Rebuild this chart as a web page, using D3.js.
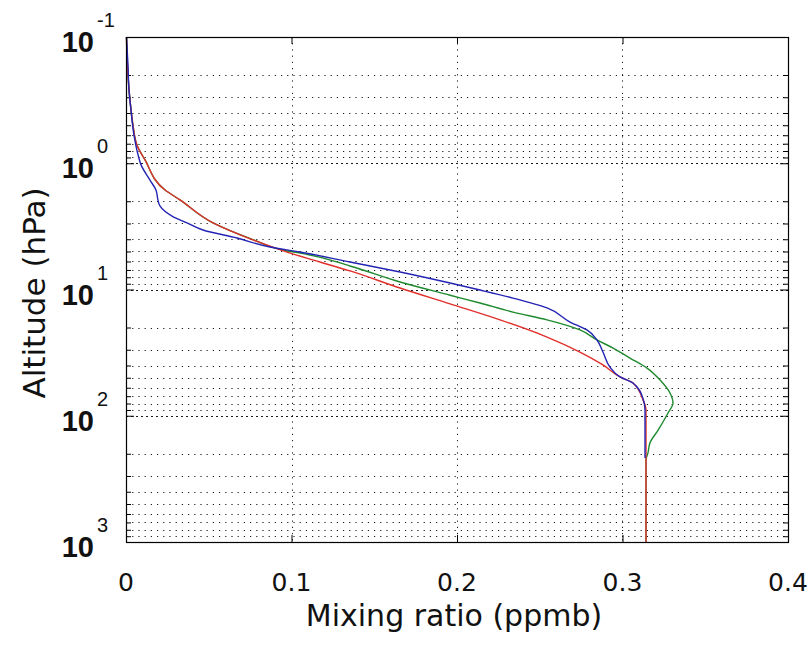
<!DOCTYPE html>
<html>
<head>
<meta charset="utf-8">
<script src="https://cdn.jsdelivr.net/npm/d3@7"></script>
<style>
  html, body { margin: 0; padding: 0; background: #fff; }
  svg { display: block; }
</style>
</head>
<body>
<svg id="chart" width="812" height="650"></svg>
<script>
// ---- data ----
const xTicks = [0, 0.1, 0.2, 0.3, 0.4];
const xTickLabels = ["0", "0.1", "0.2", "0.3", "0.4"];
const yDecadeExponents = [-1, 0, 1, 2, 3];
const xTitle = "Mixing ratio (ppmb)";
const yTitle = "Altitude (hPa)";

// [mixing ratio (ppmb), pressure (hPa)]
const blueSeries = [
  [0.0003, 0.1], [0.0012, 0.167], [0.0018, 0.263], [0.0030, 0.378], [0.0048, 0.597],
  [0.0073, 0.861], [0.0091, 1.03], [0.0145, 1.36], [0.0181, 1.63], [0.0193, 1.95],
  [0.0205, 2.18], [0.0278, 2.62], [0.0369, 2.97], [0.0465, 3.38], [0.0671, 3.91],
  [0.0870, 4.61], [0.1051, 5.05], [0.1353, 6.06], [0.1656, 7.27], [0.1958, 8.89],
  [0.2139, 10.1], [0.2338, 11.7], [0.2544, 14.0], [0.2683, 18.1], [0.2785, 20.9],
  [0.2846, 25.1], [0.2882, 31.3], [0.2924, 41.1], [0.2985, 49.3], [0.3063, 55.0],
  [0.3124, 73.0], [0.3136, 90.0], [0.3136, 216]
];
const greenSeries = [
  [0.0003, 0.1], [0.0006, 0.139], [0.0012, 0.2], [0.0024, 0.315], [0.0042, 0.498],
  [0.0066, 0.716], [0.0115, 0.942], [0.0236, 1.63], [0.0326, 1.95],
  [0.0526, 2.97], [0.0767, 4.02], [0.0973, 4.95], [0.1051, 5.14], [0.1353, 6.51],
  [0.1656, 8.72], [0.1958, 11.1], [0.2139, 12.8], [0.2338, 15.1], [0.2544, 17.4],
  [0.2743, 20.9], [0.2846, 25.1], [0.2943, 29.1], [0.3045, 34.9], [0.3148, 41.9],
  [0.3227, 52.1], [0.3287, 66.1], [0.3305, 79.2], [0.3275, 95.1], [0.3215, 130],
  [0.3166, 164], [0.3154, 197], [0.3142, 224], [0.3142, 1000]
];
const redSeries = [
  [0.0003, 0.1], [0.0006, 0.139], [0.0012, 0.2], [0.0024, 0.315], [0.0042, 0.498],
  [0.0066, 0.716], [0.0115, 0.942], [0.0236, 1.63], [0.0326, 1.95],
  [0.0526, 2.97], [0.0767, 4.05], [0.0973, 5.05], [0.1172, 6.06], [0.1353, 7.13],
  [0.1656, 9.73], [0.1958, 13.0], [0.2260, 17.4], [0.2544, 23.8], [0.2743, 31.3],
  [0.2882, 39.6], [0.2985, 49.3], [0.3063, 55.0], [0.3124, 75.0], [0.3142, 90.0],
  [0.3142, 1000]
];

// ---- layout ----
const plotLeft = 126, plotRight = 788, plotTop = 37, plotBottom = 542;
const svg = d3.select("#chart");
const x = d3.scaleLinear().domain([0, 0.4]).range([plotLeft, plotRight]);
const y = d3.scaleLog().domain([0.1, 1000]).range([plotTop, plotBottom]);

const minorVals = [];
for (let e = -1; e < 3; e++) for (let k = 2; k <= 9; k++) minorVals.push(k * Math.pow(10, e));
const majorVals = yDecadeExponents.map(e => Math.pow(10, e));

const grid = svg.append("g").attr("stroke", "#000").attr("stroke-width", 1).attr("fill", "none");
grid.selectAll("line.hmin").data(minorVals).join("line")
  .attr("x1", plotLeft).attr("x2", plotRight)
  .attr("y1", d => Math.round(y(d)) + 0.5).attr("y2", d => Math.round(y(d)) + 0.5)
  .attr("stroke-dasharray", "1.2,5").attr("stroke-opacity", 0.9);
grid.selectAll("line.hmaj").data(majorVals.slice(1, -1)).join("line")
  .attr("x1", plotLeft).attr("x2", plotRight)
  .attr("y1", d => Math.round(y(d)) + 0.5).attr("y2", d => Math.round(y(d)) + 0.5)
  .attr("stroke-dasharray", "2,3").attr("stroke-opacity", 0.9);
grid.selectAll("line.v").data(xTicks.slice(1, -1)).join("line")
  .attr("y1", plotTop).attr("y2", plotBottom)
  .attr("x1", d => Math.round(x(d)) + 0.5).attr("x2", d => Math.round(x(d)) + 0.5)
  .attr("stroke-dasharray", "1.2,5").attr("stroke-opacity", 0.9);

// ---- axes ticks via d3 axes (inward) ----
function styleAxis(g) {
  g.select(".domain").remove();
  g.selectAll("text").remove();
  g.selectAll("line").attr("stroke", "#000").attr("stroke-width", 1);
}
svg.append("g").attr("transform", `translate(0,${plotBottom})`)
  .call(d3.axisBottom(x).tickValues(xTicks).tickSize(-7)).call(styleAxis);
svg.append("g").attr("transform", `translate(0,${plotTop})`)
  .call(d3.axisTop(x).tickValues(xTicks).tickSize(-7)).call(styleAxis);
svg.append("g").attr("transform", `translate(${plotLeft},0)`)
  .call(d3.axisLeft(y).tickValues(minorVals).tickSize(-5)).call(styleAxis);
svg.append("g").attr("transform", `translate(${plotRight},0)`)
  .call(d3.axisRight(y).tickValues(minorVals).tickSize(-5)).call(styleAxis);
svg.append("g").attr("transform", `translate(${plotLeft},0)`)
  .call(d3.axisLeft(y).tickValues(majorVals).tickSize(-8)).call(styleAxis);
svg.append("g").attr("transform", `translate(${plotRight},0)`)
  .call(d3.axisRight(y).tickValues(majorVals).tickSize(-8)).call(styleAxis);

// ---- lines ----
const line = d3.line().curve(d3.curveMonotoneY).x(d => x(d[0])).y(d => y(d[1]));
const plot = svg.append("g").attr("fill", "none").attr("stroke-width", 1.4).attr("stroke-linejoin", "round");
plot.append("path").datum(greenSeries).attr("d", line).attr("stroke", "#1f8a2e");
plot.append("path").datum(redSeries).attr("d", line).attr("stroke", "#e0302c");
plot.append("path").datum(blueSeries).attr("d", line).attr("stroke", "#2424b4");

// ---- box ----
svg.append("rect").attr("x", plotLeft + 0.5).attr("y", plotTop + 0.5)
  .attr("width", plotRight - plotLeft).attr("height", plotBottom - plotTop)
  .attr("fill", "none").attr("stroke", "#000").attr("stroke-width", 1.2);

// ---- tick labels ----
svg.append("g").selectAll("text").data(xTicks).join("text")
  .attr("x", d => x(d)).attr("y", 591)
  .attr("text-anchor", "middle")
  .attr("font-family", "DejaVu Sans").attr("font-size", 25).attr("fill", "#111")
  .text((d, i) => xTickLabels[i]);

const yl = svg.append("g");
yDecadeExponents.forEach(e => {
  const yy = y(Math.pow(10, e));
  yl.append("text").attr("x", 94).attr("y", yy + 15)
    .attr("text-anchor", "end")
    .attr("font-family", "Liberation Sans").attr("font-weight", "bold")
    .attr("font-size", 29).attr("fill", "#111").text("10");
  yl.append("text").attr("x", 97).attr("y", yy - 10)
    .attr("text-anchor", "start")
    .attr("font-family", "Liberation Sans")
    .attr("font-size", 20).attr("fill", "#111").text(String(e));
});

// ---- titles ----
svg.append("text").attr("x", 454).attr("y", 626).attr("text-anchor", "middle")
  .attr("font-family", "DejaVu Sans").attr("font-size", 30).attr("fill", "#111")
  .text(xTitle);
svg.append("text").attr("transform", "translate(45,293) rotate(-90)")
  .attr("text-anchor", "middle")
  .attr("font-family", "DejaVu Sans").attr("font-size", 31).attr("fill", "#111")
  .text(yTitle);
</script>
</body>
</html>
